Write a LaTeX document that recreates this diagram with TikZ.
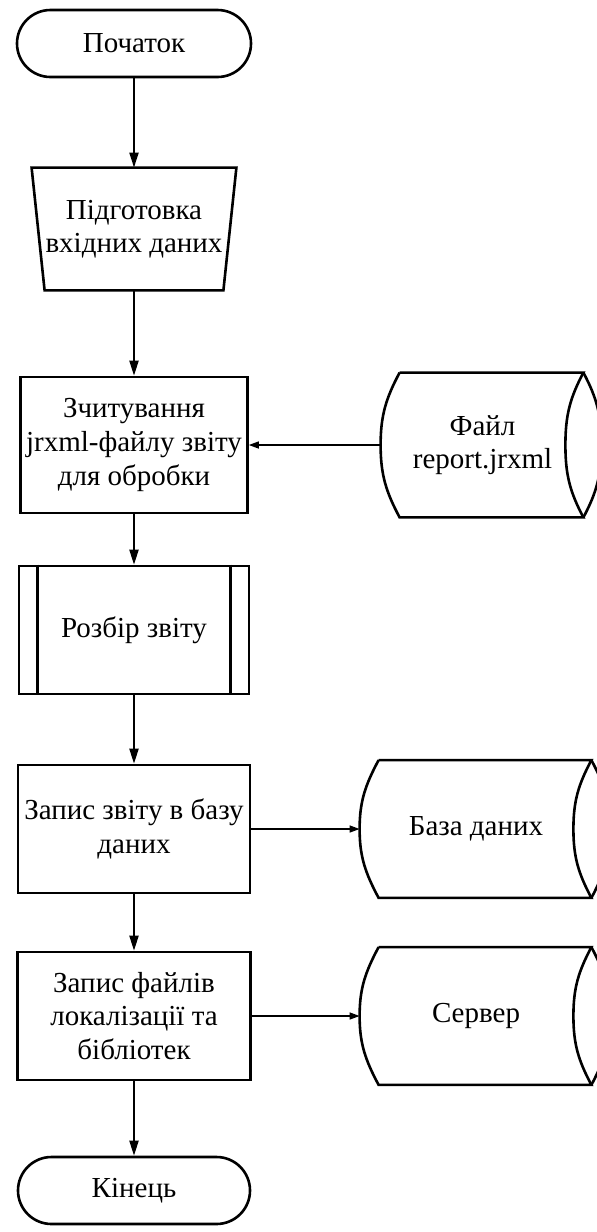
\documentclass[tikz,border=0pt]{standalone}
\usepackage{fontspec}
\setmainfont{Liberation Serif}
\usetikzlibrary{arrows.meta}

\begin{document}
\begin{tikzpicture}[x=0.5pt, y=0.5pt,
    every node/.style={font=\fontsize{14.5}{16.8}\selectfont, align=center, inner sep=0pt},
    box/.style={draw, line width=1.3pt},
    term/.style={box, rounded corners=16.75pt, minimum width=117pt, minimum height=33.5pt},
    proc/.style={box, minimum height=64pt},
    outline/.style={line width=1.3pt},
    arr/.style={-{Triangle[length=7.5pt, width=4.5pt]}, line width=1pt},
    harr/.style={-{Triangle[length=5pt, width=3.5pt]}, line width=0.7pt}]
    \useasboundingbox (0,0) rectangle (597,-1232);
    \clip (0,0) rectangle (597,-1232);
    \fill[white] (0,0) rectangle (597,-1232);

    \node[term] (start) at (134,-43.5) {Початок};
    \node[minimum width=89pt, minimum height=61pt] (inp) at (134,-229) {Підготовка\\вхідних даних};
    \node[box, minimum width=113.5pt, minimum height=68pt] (read) at (134,-445) {Зчитування\\jrxml-файлу звіту\\для обробки};
    \node[proc, minimum width=115pt] (parse) at (134,-630) {Розбір звіту};
    \node[proc, minimum width=116pt] (dbw) at (134,-829) {Запис звіту в базу\\даних};
    \node[proc, minimum width=116.5pt] (files) at (134,-1016) {Запис файлів\\локалізації та\\бібліотек};
    \node[term, minimum width=116pt] (stop) at (134,-1190.5) {Кінець};

    \node[minimum width=82.5pt, minimum height=72pt] (file) at (482.5,-445) {Файл\\report.jrxml};
    \node[minimum width=97pt, minimum height=68.5pt] (db) at (476,-829) {База даних};
    \node[minimum width=97pt, minimum height=68.5pt] (srv) at (476,-1016) {Сервер};

    \draw[outline] (inp.south west) -- (inp.south east) -- ([xshift=6.5pt]inp.north east)
        -- ([xshift=-6.5pt]inp.north west) -- cycle;
    \draw[outline] ([xshift=10pt]parse.north west) -- ([xshift=10pt]parse.south west);
    \draw[outline] ([xshift=-10pt]parse.north east) -- ([xshift=-10pt]parse.south east);

    \foreach \n in {file,db,srv} {
    \draw[outline] (\n.north west) -- ([xshift=9pt]\n.north east)
        to[out=242,in=90] (\n.east) to[out=270,in=118] ([xshift=9pt]\n.south east)
        -- (\n.south west)
        to[out=118,in=270] ([xshift=-9.5pt]\n.west) to[out=90,in=242] (\n.north west);
    \draw[outline] ([xshift=9pt]\n.north east) to[out=298,in=90] ([xshift=18pt]\n.east)
        to[out=270,in=62] ([xshift=9pt]\n.south east);
    }

    \foreach \a/\b in {start/inp, inp/read, read/parse, parse/dbw, dbw/files, files/stop}
    \draw[arr] (\a) -- (\b);
    \draw[harr] ([xshift=-9.5pt]file.west) -- (read.east);
    \draw[harr] (dbw.east) -- ([xshift=-9.5pt]db.west);
    \draw[harr] (files.east) -- ([xshift=-9.5pt]srv.west);
\end{tikzpicture}
\end{document}
